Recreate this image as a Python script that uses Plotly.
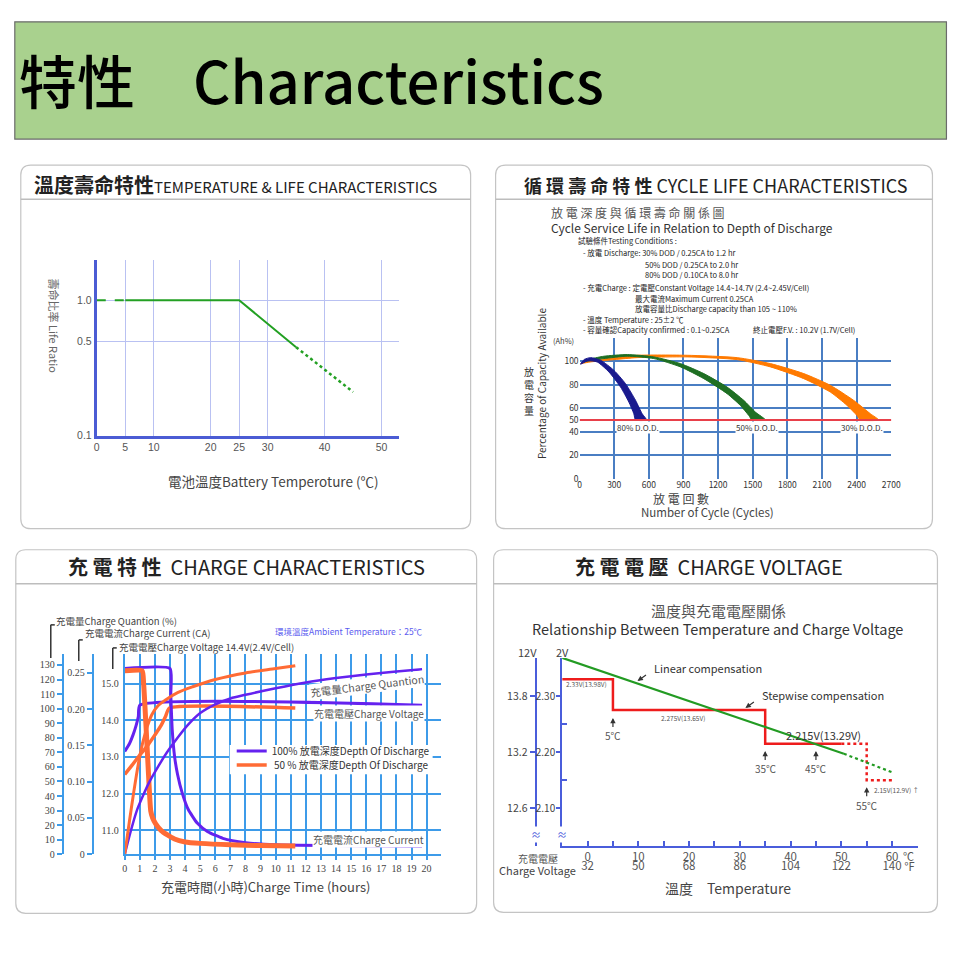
import plotly.graph_objects as go

CJK = "Noto Sans CJK TC"
SERIF = "Liberation Serif"
SANS = "Liberation Sans"
FW, FH = 970, 968
SX, OX = 0.988, 2.2
SY, OY = 0.9921, 0.2


def px(x):
    return ((x - OX) / SX) / FW


def py(y):
    return 1 - ((y - OY) / SY) / FH


# ---------------- Panel 1: temperature & life ----------------
tl_temp_dash = [0, 5]
tl_life_dash = [1.0, 1.0]
tl_temp_solid = [5, 25, 35]
tl_life_solid = [1.0, 1.0, 0.45]
tl_temp_dot = [35, 45]
tl_life_dot = [0.45, 0.21]
tl_xticks = [0, 5, 10, 20, 25, 30, 40, 50]
tl_yticks = [0.1, 0.5, 1.0]
tl_ytext = ["0.1", "0.5", "1.0"]

# ---------------- Panel 2: cycle life ----------------
cy_orange_up_x = [9, 100, 300, 499, 932, 1365, 1653, 1942, 2172, 2374, 2519, 2591]
cy_orange_up_y = [98, 100.5, 103, 105.1, 105.1, 103.1, 98, 89.5, 79.5, 66.7, 55.3, 50]
cy_orange_lo_x = [9, 100, 300, 499, 932, 1365, 1653, 1942, 2172, 2317, 2403, 2432]
cy_orange_lo_y = [98, 99.5, 101.4, 103.1, 103.7, 101.4, 95.2, 85.2, 73.8, 62.4, 53.8, 50]
cy_green_up_x = [40, 100, 211, 413, 643, 874, 1076, 1278, 1422, 1523, 1610]
cy_green_up_y = [99.5, 102, 104.3, 105.7, 103.7, 98, 89.5, 78, 66.7, 56.7, 50]
cy_green_lo_x = [40, 100, 211, 413, 643, 874, 1076, 1278, 1393, 1466, 1494]
cy_green_lo_y = [99.5, 100.8, 102.3, 104.3, 102.3, 95.2, 85.2, 72.4, 62.4, 53.8, 50]
cy_blue_up_x = [9, 40, 95, 182, 297, 398, 485, 542, 580]
cy_blue_up_y = [97.5, 101.5, 103.1, 100.9, 92.3, 80.9, 66.7, 55.3, 50]
cy_blue_lo_x = [9, 66, 153, 254, 355, 427, 470, 485]
cy_blue_lo_y = [97.5, 100.3, 99.4, 90.9, 78, 65.2, 55.3, 50]
cy_limit = 50
cy_xticks = [0, 300, 600, 900, 1200, 1500, 1800, 2100, 2400, 2700]
cy_yticks = [0, 20, 40, 50, 60, 80, 100]
cy_ygrid = [20, 40, 60, 80, 100]
cy_labels = ["80% D.O.D.", "50% D.O.D.", "30% D.O.D."]
cy_label_x = [510, 1540, 2450]

# ---------------- Panel 3: charge characteristics ----------------
ch_pv_x = [0, 0.3, 0.55, 0.75, 0.9, 1.0, 19.7]
ch_pv_v = [13.15, 13.35, 13.6, 13.85, 14.1, 14.41, 14.41]
ch_ov_x = [0, 0.5, 1.0, 1.5, 2.0, 2.4, 2.7, 2.95, 11.3]
ch_ov_v = [12.52, 12.78, 13.05, 13.3, 13.6, 13.85, 14.1, 14.33, 14.33]
ch_pc_x = [0, 3.0, 3.05, 3.15, 3.3, 3.5, 3.8, 4.2, 4.8, 5.5, 6.5, 8, 10, 14, 19.7]
ch_pc_i = [0.256, 0.256, 0.22, 0.17, 0.135, 0.11, 0.085, 0.062, 0.043, 0.031, 0.022,
           0.016, 0.013, 0.012, 0.011]
ch_oc_x = [0, 1.15, 1.25, 1.4, 1.55, 1.72, 1.85, 2.05, 2.4, 2.8, 3.3, 4.0, 5, 7, 9, 11.3]
ch_oc_i = [0.253, 0.253, 0.235, 0.18, 0.12, 0.06, 0.05, 0.042, 0.033, 0.027, 0.021,
           0.017, 0.015, 0.013, 0.012, 0.0115]
ch_pq_x = [0, 0.4, 0.8, 1.2, 1.6, 2.2, 2.8, 3.5, 4.2, 5, 6, 7, 8, 10, 12, 14, 16, 18, 19.7]
ch_pq_q = [0, 16, 30, 40, 49, 60, 70, 80, 89, 97, 103, 107, 109.5, 114, 118, 121, 123.5,
           125.5, 127]
ch_oq_x = [0, 0.3, 0.6, 0.9, 1.2, 1.5, 1.8, 2.2, 2.7, 3.5, 4.5, 6, 8, 10, 11.3]
ch_oq_q = [0, 22, 43, 62, 77, 88, 96, 102, 106, 111, 115, 120, 124.5, 127.5, 129.5]
ch_hours = list(range(0, 21))
ch_volt_ticks = [11, 12, 13, 14, 15]
ch_cur_ticks = [0, 0.05, 0.10, 0.15, 0.20, 0.25]
ch_cur_text = ["0", "0.05", "0.10", "0.15", "0.20", "0.25"]
ch_q_ticks = list(range(0, 140, 10))

# ---------------- Panel 4: charge voltage ----------------
cv_lin_x = [-5, 50.5]
cv_lin_v = [2.368, 2.197]
cv_lin_dot_x = [50.5, 60.3]
cv_lin_dot_v = [2.197, 2.163]
cv_step_x = [-5, 5, 5, 35, 35, 50]
cv_step_v = [2.33, 2.33, 2.275, 2.275, 2.215, 2.215]
cv_step_dot_x = [50, 55, 55, 60]
cv_step_dot_v = [2.215, 2.215, 2.15, 2.15]
cv_c_ticks = list(range(0, 65, 5))
cv_c_labels = ["0", "10", "20", "30", "40", "50", "60"]
cv_f_labels = ["32", "50", "68", "86", "104", "122", "140"]
cv_2v_ticks = [2.10, 2.20, 2.30]
cv_12v_ticks = [12.6, 13.2, 13.8]
cv_marks_t = [5, 35, 45, 55]
cv_marks_v = [2.261, 2.202, 2.202, 2.1375]

PURPLE = "#6522ef"
ORANGE = "#ff6b35"
GBLUE = "#3d9be9"
AXB = "#4a5ddb"

fig = go.Figure()

# panel 1 traces
fig.add_trace(go.Scatter(x=tl_temp_dash, y=tl_life_dash, mode="lines", xaxis="x", yaxis="y",
                         line=dict(color="#23a023", width=2, dash="dash"), showlegend=False))
fig.add_trace(go.Scatter(x=tl_temp_solid, y=tl_life_solid, mode="lines", xaxis="x", yaxis="y",
                         line=dict(color="#23a023", width=2), showlegend=False))
fig.add_trace(go.Scatter(x=tl_temp_dot, y=tl_life_dot, mode="lines", xaxis="x", yaxis="y",
                         line=dict(color="#23a023", width=2.5, dash="dot"), showlegend=False))

# panel 2 traces
for ux, uy, lx, ly, col in [
    (cy_orange_up_x, cy_orange_up_y, cy_orange_lo_x, cy_orange_lo_y, "#ff7a00"),
    (cy_green_up_x, cy_green_up_y, cy_green_lo_x, cy_green_lo_y, "#1f6f23"),
    (cy_blue_up_x, cy_blue_up_y, cy_blue_lo_x, cy_blue_lo_y, "#1a1a8e"),
]:
    fig.add_trace(go.Scatter(x=ux + lx[::-1], y=uy + ly[::-1], mode="lines", fill="toself",
                             fillcolor=col, line=dict(color=col, width=1, shape="spline", smoothing=0.6),
                             xaxis="x2", yaxis="y2", showlegend=False))
fig.add_trace(go.Scatter(x=[0, 2700], y=[cy_limit, cy_limit], mode="lines", xaxis="x2", yaxis="y2",
                         line=dict(color="#e8404a", width=2), showlegend=False))

# panel 3 traces
fig.add_trace(go.Scatter(x=ch_pv_x, y=ch_pv_v, mode="lines", xaxis="x3", yaxis="y3",
                         line=dict(color=PURPLE, width=3, shape="spline", smoothing=0.5),
                         name="100% 放電深度Depth Of Discharge", showlegend=True, legend="legend"))
fig.add_trace(go.Scatter(x=ch_pc_x, y=ch_pc_i, mode="lines", xaxis="x3", yaxis="y4",
                         line=dict(color=PURPLE, width=3, shape="spline", smoothing=0.5), showlegend=False))
fig.add_trace(go.Scatter(x=ch_pq_x, y=ch_pq_q, mode="lines", xaxis="x3", yaxis="y5",
                         line=dict(color=PURPLE, width=2.5, shape="spline", smoothing=0.8), showlegend=False))
fig.add_trace(go.Scatter(x=ch_ov_x, y=ch_ov_v, mode="lines", xaxis="x3", yaxis="y3",
                         line=dict(color=ORANGE, width=3.5, shape="spline", smoothing=0.5),
                         name=" 50 % 放電深度Depth Of Discharge", showlegend=True, legend="legend2"))
fig.add_trace(go.Scatter(x=ch_oq_x, y=ch_oq_q, mode="lines", xaxis="x3", yaxis="y5",
                         line=dict(color=ORANGE, width=3, shape="spline", smoothing=0.8), showlegend=False))
fig.add_trace(go.Scatter(x=ch_oc_x, y=ch_oc_i, mode="lines", xaxis="x3", yaxis="y4",
                         line=dict(color=ORANGE, width=5, shape="spline", smoothing=0.5), showlegend=False))

# panel 4 traces
fig.add_trace(go.Scatter(x=cv_step_x, y=cv_step_v, mode="lines", xaxis="x4", yaxis="y6",
                         line=dict(color="#ee1c1c", width=2.5), showlegend=False))
fig.add_trace(go.Scatter(x=cv_step_dot_x, y=cv_step_dot_v, mode="lines", xaxis="x4", yaxis="y6",
                         line=dict(color="#ee1c1c", width=2.5, dash="dot"), showlegend=False))
fig.add_trace(go.Scatter(x=cv_lin_x, y=cv_lin_v, mode="lines", xaxis="x4", yaxis="y6",
                         line=dict(color="#239b23", width=2.2), showlegend=False))
fig.add_trace(go.Scatter(x=cv_lin_dot_x, y=cv_lin_dot_v, mode="lines", xaxis="x4", yaxis="y6",
                         line=dict(color="#239b23", width=2.2, dash="dot"), showlegend=False))
# carriers so the secondary scales (Fahrenheit labels, 12 V scale) get drawn
fig.add_trace(go.Scatter(x=[None], y=[None], mode="lines", xaxis="x5", yaxis="y6",
                         showlegend=False, hoverinfo="skip"))
fig.add_trace(go.Scatter(x=[None], y=[None], mode="lines", xaxis="x4", yaxis="y7",
                         showlegend=False, hoverinfo="skip"))


def rrect(x0, y0, x1, y1, r):
    def P(x, y):
        return f"{px(x):.5f},{py(y):.5f}"
    return (f"M {P(x0 + r, y0)} L {P(x1 - r, y0)} Q {P(x1, y0)} {P(x1, y0 + r)} "
            f"L {P(x1, y1 - r)} Q {P(x1, y1)} {P(x1 - r, y1)} L {P(x0 + r, y1)} "
            f"Q {P(x0, y1)} {P(x0, y1 - r)} L {P(x0, y0 + r)} Q {P(x0, y0)} {P(x0 + r, y0)} Z")


shapes = []
shapes.append(dict(type="rect", xref="paper", yref="paper", x0=px(14), x1=px(946), y0=py(139), y1=py(22),
                   fillcolor="#a9d18e", line=dict(color="#6b6b6b", width=1.2), layer="below"))
for (x0, y0, x1, y1, sep) in [(20, 165, 470, 528, 199), (495, 165, 932, 528, 199),
                              (15, 549, 476, 912, 583), (493, 549, 937, 911, 583)]:
    shapes.append(dict(type="path", xref="paper", yref="paper", path=rrect(x0, y0, x1, y1, 10),
                       fillcolor="white", line=dict(color="#c4c4c4", width=1.2), layer="below"))
    shapes.append(dict(type="line", xref="paper", yref="paper", x0=px(x0), x1=px(x1), y0=py(sep), y1=py(sep),
                       line=dict(color="#bdbdbd", width=1.5), layer="below"))
# legend backing box of panel 3 (hides the grid behind the key)
shapes.append(dict(type="rect", xref="paper", yref="paper", x0=px(229), x1=px(432), y0=py(773), y1=py(744),
                   fillcolor="white", line=dict(width=0), layer="above"))
# brackets of panel 3
for bx, top, bot in [(50, 624, 657), (78, 639, 660), (112, 647, 668)]:
    shapes.append(dict(type="line", xref="paper", yref="paper", x0=px(bx), x1=px(bx), y0=py(top), y1=py(bot),
                       line=dict(color="#333", width=1.5)))
    shapes.append(dict(type="line", xref="paper", yref="paper", x0=px(bx), x1=px(bx + 4), y0=py(top), y1=py(top),
                       line=dict(color="#333", width=1.5)))

ann = []


def T(text, x, y, size, color="#333", xanchor="center", family=CJK, angle=0, bg="rgba(0,0,0,0)", pad=1,
      weight="normal"):
    ann.append(dict(text=text, x=px(x), y=py(y), xref="paper", yref="paper", showarrow=False,
                    font=dict(size=size, color=color, family=family, weight=weight), xanchor=xanchor,
                    yanchor="middle", textangle=angle, bgcolor=bg, borderpad=pad))


T("特性　Characteristics", 16, 79, 58, "#000", "left", weight=500)
T("<b>溫度壽命特性</b><span style='font-size:15px'>TEMPERATURE &amp; LIFE CHARACTERISTICS</span>",
  31, 184, 20, "#222", "left")
T("<b>循 環 壽 命 特 性</b> CYCLE LIFE CHARACTERISTICS", 715, 185, 18, "#222")
T("<b>充 電 特 性</b>  CHARGE CHARACTERISTICS", 246, 566, 20, "#222")
T("<b>充 電 電 壓</b>  CHARGE VOLTAGE", 708, 566, 20, "#222")

# panel 1 texts
T("壽命比率 Life Ratio", 53, 326, 11, "#666", angle=90)
T("電池溫度Battery Temperoture (℃)", 273, 480, 13.5, "#444")

# panel 2 texts
T("放 電 深 度 與 循 環 壽 命 關 係 圖", 548, 212, 12, "#555", "left")
T("Cycle Service Life in Relation to Depth of Discharge", 548, 227, 12, "#333", "left")
cond = [("試驗條件Testing Conditions :", 575, 240),
        ("- 放電 Discharge: 30% DOD / 0.25CA to 1.2 hr", 580, 252),
        ("50% DOD / 0.25CA to 2.0 hr", 642, 264),
        ("80% DOD / 0.10CA to 8.0 hr", 642, 274),
        ("- 充電Charge : 定電壓Constant Voltage 14.4~14.7V (2.4~2.45V/Cell)", 580, 287),
        ("最大電流Maximum Current 0.25CA", 632, 298),
        ("放電容量比Discharge capacity than 105 ~ 110%", 632, 308),
        ("- 溫度 Temperature : 25±2 ℃", 580, 319),
        ("- 容量確認Capacity confirmed : 0.1~0.25CA", 580, 329),
        ("終止電壓F.V. : 10.2V (1.7V/Cell)", 750, 329)]
for t, x, y in cond:
    T(t, x, y, 7.5, "#222", "left")
T("(Ah%)", 563, 340, 7.5, "#333")
T("Percentage of Capacity Available", 541, 383, 10, "#333", angle=-90)
T("放<br>電<br>容<br>量", 528, 391, 10, "#333")
T("放 電 回 數", 680, 498, 12, "#444")
T("Number of Cycle (Cycles)", 707, 511, 11.5, "#444")
for t, xv in zip(cy_labels, cy_label_x):
    ann.append(dict(text=t, x=xv, y=43.5, xref="x2", yref="y2", showarrow=False, xanchor="center",
                    font=dict(size=8, color="#333", family=CJK), bgcolor="white", borderpad=0))

# panel 3 texts
T("充電量Charge Quantion (%)", 53, 620, 9.5, "#444", "left")
T("充電電流Charge Current (CA)", 82, 632, 9.5, "#444", "left")
T("充電電壓Charge Voltage 14.4V(2.4V/Cell)", 116, 646, 9.5, "#444", "left")
T("環境溫度Ambient Temperature：25℃", 272, 630, 8.5, "#5b5bef", "left")
T("充電量Charge Quantion", 366, 685, 10.5, "#555", angle=-7, bg="white", pad=0)
T("充電電壓Charge Voltage", 368, 712, 10, "#555", bg="white", pad=0)
T("充電電流Charge Current", 368, 838, 10, "#555", bg="white", pad=0)
T("充電時間(小時)Charge Time (hours)", 265, 885, 13, "#444")

# panel 4 texts
T("溫度與充電電壓關係", 718, 610, 15, "#555")
T("Relationship Between Temperature and Charge Voltage", 717, 628, 14.5, "#333")
T("12V", 527, 651, 11, "#444")
T("2V", 562, 651, 11, "#444")
T("充電電壓", 537, 857, 10, "#555")
T("Charge Voltage", 537, 869, 11, "#444")
T("溫度　Temperature", 727, 887, 14, "#444")
T("℃", 908, 855, 11, "#555")
T("℉", 909, 865, 11, "#555")
for bx in (535, 561):
    T("≈", bx, 833, 10, AXB, bg="white", pad=0)
T("Linear compensation", 651, 667, 11, "#333", "left")
T("Stepwise compensation", 759, 694, 11, "#333", "left")


def D(text, x, y, size, color="#555", xanchor="center"):
    ann.append(dict(text=text, x=x, y=y, xref="x4", yref="y6", showarrow=False, xanchor=xanchor,
                    font=dict(size=size, color=color, family=CJK)))


D("2.33V(13.98V)", -4.6, 2.3214, 6.5, "#555", "left")
D("2.275V(13.65V)", 18.9, 2.2607, 6.5, "#555")
D("2.215V(13.29V)", 46.5, 2.2304, 11, "#333")
D("2.15V(12.9V) ↑", 56.0, 2.132, 6.5, "#555", "left")
for tm, vt in zip(cv_marks_t, cv_marks_v):
    ann.append(dict(text=f"{tm}℃", x=tm, y=vt, xref="x4", yref="y6", showarrow=True, ax=0, ay=18,
                    arrowhead=2, arrowsize=0.9, arrowwidth=1.2, arrowcolor="#333", standoff=0,
                    font=dict(size=10, color="#555", family=CJK)))
for tx, tv in [(9.84, 2.3268), (31.1, 2.2786)]:
    ann.append(dict(text="", x=tx, y=tv, xref="x4", yref="y6", showarrow=True, ax=10, ay=-7,
                    arrowhead=2, arrowsize=0.9, arrowwidth=1.2, arrowcolor="#333", standoff=0))

tl_blue = "#4b5cd4"
bl_tick = dict(size=10, color="#444", family=SERIF)
leg_common = dict(xanchor="left", yanchor="middle", bgcolor="rgba(0,0,0,0)",
                  font=dict(size=10, family=CJK, color="#333"), itemwidth=30, borderwidth=0)
fig.update_layout(
    width=FW, height=FH, margin=dict(l=0, r=0, t=0, b=0),
    paper_bgcolor="white", plot_bgcolor="rgba(0,0,0,0)",
    shapes=shapes, annotations=ann,
    legend=dict(x=px(231), y=py(750), **leg_common),
    legend2=dict(x=px(231), y=py(764), **leg_common),
    xaxis=dict(domain=[px(96), px(398)], range=[0, 53], anchor="y", tickmode="array",
               tickvals=tl_xticks, showgrid=True, gridcolor="#b9c1f2", gridwidth=1,
               showline=True, linecolor=tl_blue, linewidth=2.5, ticks="", zeroline=False,
               tickfont=dict(size=10.5, color="#555", family=SANS)),
    yaxis=dict(domain=[py(435), py(260)], type="log", range=[-1, 0.296], anchor="x",
               tickmode="array", tickvals=tl_yticks, ticktext=tl_ytext, showgrid=True,
               gridcolor="#b9c1f2", gridwidth=1, showline=True, linecolor=tl_blue, linewidth=3,
               ticks="", zeroline=False, tickfont=dict(size=10.5, color="#555", family=SANS)),
    xaxis2=dict(domain=[px(579), px(891)], range=[0, 2702], anchor="y2", tickmode="array",
                tickvals=cy_xticks, showgrid=False, showline=False, zeroline=False, ticks="",
                minor=dict(tickmode="array", tickvals=cy_xticks[1:], showgrid=True,
                           gridcolor="#4a7ec3", gridwidth=2, ticks=""),
                tickfont=dict(size=8.5, color="#333", family=CJK)),
    yaxis2=dict(domain=[py(478), py(338)], range=[0, 119.5], anchor="x2", tickmode="array",
                tickvals=cy_yticks, showgrid=False, showline=False, zeroline=False, ticks="",
                minor=dict(tickmode="array", tickvals=cy_ygrid, showgrid=True,
                           gridcolor="#4a7ec3", gridwidth=2, ticks=""),
                tickfont=dict(size=8.5, color="#333", family=CJK)),
    xaxis3=dict(domain=[px(124), px(440)], range=[0, 20.93], anchor="y3", tickmode="array",
                tickvals=ch_hours, showgrid=True, gridcolor=GBLUE, gridwidth=2, showline=True,
                linecolor=GBLUE, linewidth=2, ticks="outside", ticklen=4, tickwidth=2,
                tickcolor=GBLUE, zeroline=False, tickfont=bl_tick),
    yaxis3=dict(domain=[py(853), py(653)], range=[10.344, 15.808], anchor="x3", tickmode="array",
                tickvals=ch_volt_ticks, ticktext=[f"{v:.1f}" for v in ch_volt_ticks],
                showgrid=True, gridcolor=GBLUE, gridwidth=2, showline=True, linecolor=GBLUE,
                linewidth=2, ticks="", zeroline=False, tickfont=bl_tick, ticklabelstandoff=2),
    yaxis4=dict(overlaying="y3", anchor="free", position=px(92), side="left", range=[0, 0.2762],
                tickmode="array", tickvals=ch_cur_ticks, ticktext=ch_cur_text, showgrid=False,
                showline=True, linecolor=GBLUE, linewidth=2, ticks="outside", ticklen=5,
                tickwidth=2, tickcolor=GBLUE, zeroline=False, tickfont=bl_tick),
    yaxis5=dict(overlaying="y3", anchor="free", position=px(62), side="left", range=[0, 137.57],
                tickmode="array", tickvals=ch_q_ticks, showgrid=False, showline=True,
                linecolor=GBLUE, linewidth=2, ticks="outside", ticklen=5, tickwidth=2,
                tickcolor=GBLUE, zeroline=False, tickfont=bl_tick),
    xaxis4=dict(domain=[px(561.6), px(918)], range=[-5, 65.2], anchor="y6", tickmode="array",
                tickvals=cv_c_ticks,
                ticktext=[cv_c_labels[i // 2] if i % 2 == 0 else "" for i in range(len(cv_c_ticks))],
                ticks="inside", ticklen=5, tickwidth=2, tickcolor=AXB, showline=True,
                linecolor=AXB, linewidth=2, showgrid=False, zeroline=False,
                ticklabelstandoff=-1, tickfont=dict(size=11.5, color="#555", family=CJK)),
    xaxis5=dict(overlaying="x4", anchor="y6", side="bottom", range=[-5, 65.2], tickmode="array",
                tickvals=cv_c_ticks[::2], ticktext=cv_f_labels, ticks="", showline=False,
                showgrid=False, zeroline=False, ticklabelstandoff=11,
                tickfont=dict(size=11.5, color="#555", family=CJK)),
    yaxis6=dict(domain=[py(845), py(657)], range=[2.0321, 2.3679], anchor="x4", tickmode="array",
                tickvals=cv_2v_ticks, ticktext=[f"{v:.2f}" for v in cv_2v_ticks], ticks="outside",
                ticklen=4, tickwidth=2, tickcolor=AXB, showline=True, linecolor=AXB,
                linewidth=2, showgrid=False, zeroline=False, ticklabelstandoff=-1,
                minor=dict(tickmode="array", tickvals=[2.15, 2.25], ticks="inside", ticklen=5,
                           tickwidth=2, tickcolor=AXB, showgrid=False),
                tickfont=dict(size=10, color="#444", family=CJK)),
    yaxis7=dict(overlaying="y6", anchor="free", position=px(535), side="left",
                range=[12.193, 14.207], tickmode="array", tickvals=cv_12v_ticks,
                ticktext=[f"{v:.1f}" for v in cv_12v_ticks], ticks="outside", ticklen=5,
                tickwidth=2, tickcolor=AXB, showline=True, linecolor=AXB,
                linewidth=2, showgrid=False, zeroline=False,
                tickfont=dict(size=10.5, color="#444", family=CJK)),
)

fig.write_html("out.html", config={"displayModeBar": False},
               post_script="document.body.style.margin='0px';")
